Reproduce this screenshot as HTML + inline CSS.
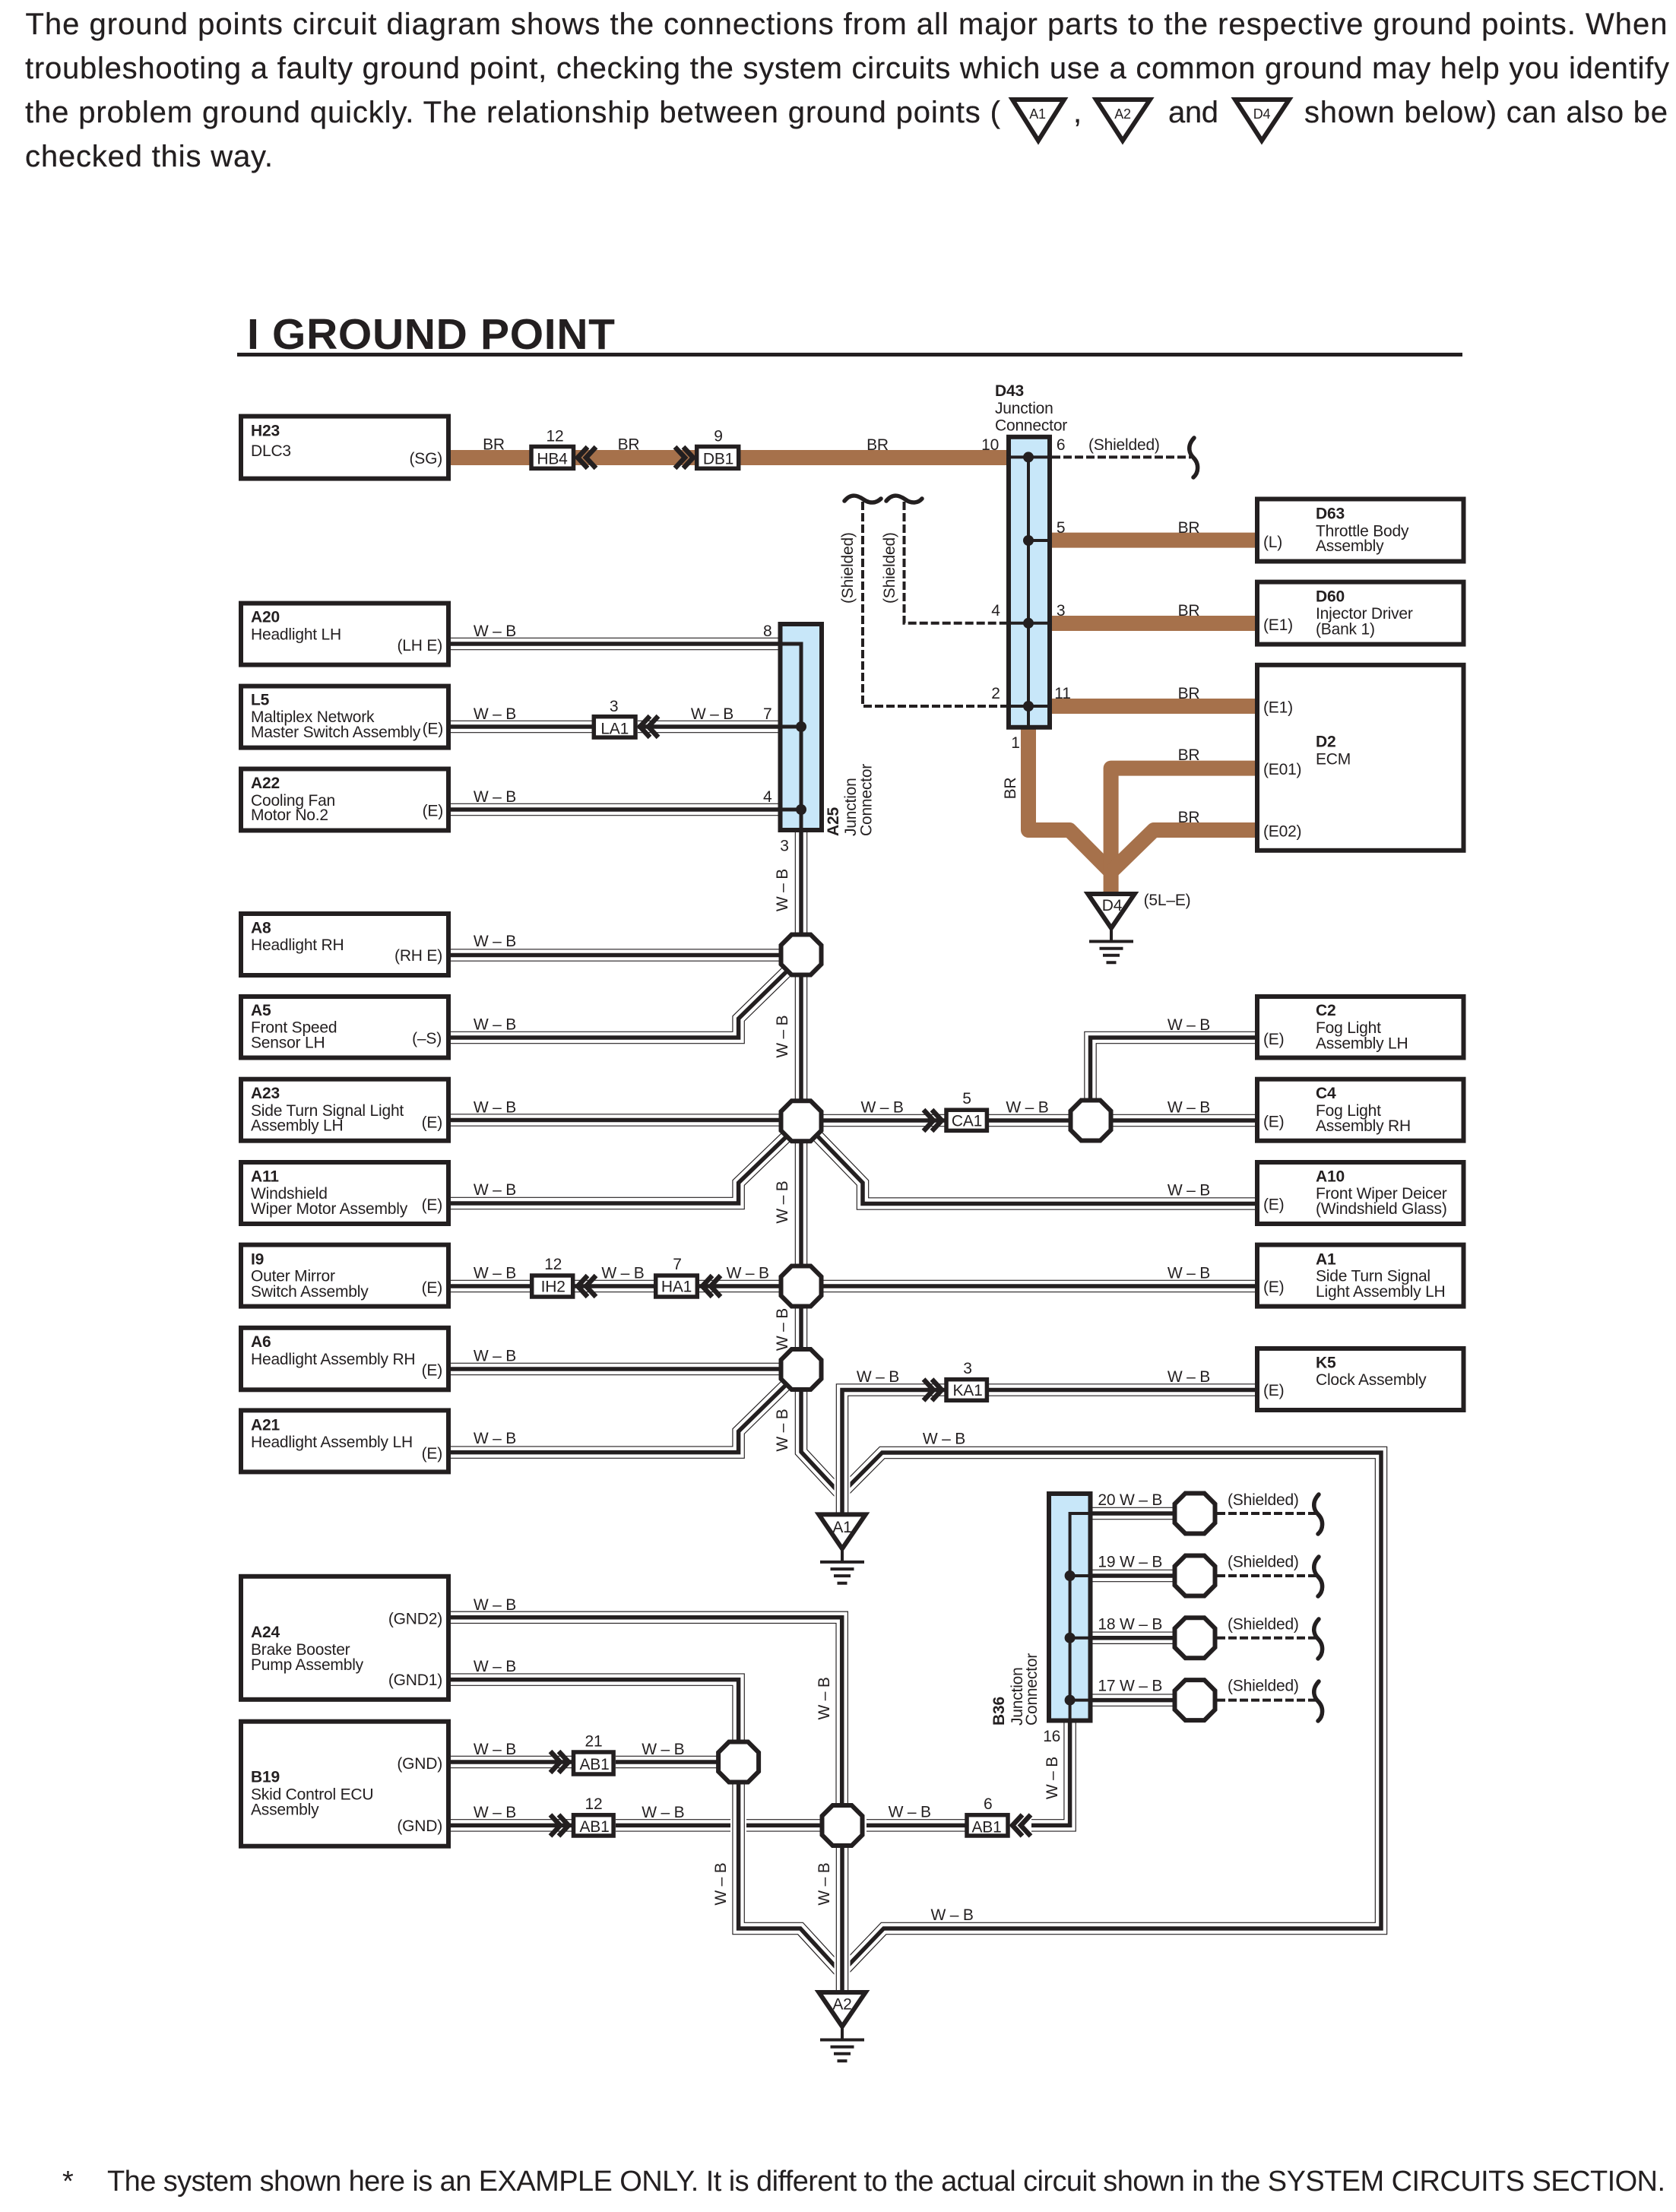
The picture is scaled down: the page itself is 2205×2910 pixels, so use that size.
<!DOCTYPE html>
<html><head><meta charset="utf-8"><title>Ground Point</title>
<style>
html,body{margin:0;padding:0;background:#fff}
svg{display:block}
text{font-family:"Liberation Sans",Arial,sans-serif;font-size:21px;fill:#231f20;letter-spacing:-.2px}
.b{font-weight:bold}
.e{text-anchor:end}
.m{text-anchor:middle}
.p{font-size:40px;letter-spacing:0;stroke:#231f20;stroke-width:.25}
.box{fill:none;stroke:#231f20;stroke-width:6;stroke-linejoin:miter}
.con{fill:#fff;stroke:#231f20;stroke-width:5.5}
.j{fill:#c8e7f9;stroke:#231f20;stroke-width:6}
.ln{fill:none;stroke:#231f20;stroke-width:4}
.dash{fill:none;stroke:#231f20;stroke-width:4;stroke-dasharray:11 4}
.sq{fill:none;stroke:#231f20;stroke-width:5.5;stroke-linecap:round}
</style></head><body>
<svg xmlns="http://www.w3.org/2000/svg" width="2205" height="2910" viewBox="0 0 2205 2910">
<defs>
<path id="wa" d="M593 847H1024M593 956H779M839 956H1024M593 1065H1024M593 1256.5H1030M593 1365H971.6V1340L1036 1277M593 1473.5H1030M593 1583H971.6V1556L1036 1494M593 1692H700M756 1692H863M920 1692H1030M593 1801H1030M593 1910.6H971.6V1883L1036 1820M1075 1494L1135 1556V1583.5H1652M1078 1474H1243M1300 1474H1410M1460 1474H1652M1434.5 1450V1365H1652M1078 1692H1652M1300 1828.5H1652M1108 1964L1160.6 1911H1817V2537H1162.6L1108 2594M1054 1830V1910L1108 1968M1437 1991H1545M1437 2073H1545M1437 2154.7H1545M1437 2236.6H1545M1407.6 2266V2401.4H1357M1328 2401.4H1140M971.6 2345V2537H1053L1108 2597M593 2209.6H971.6V2290M593 2127.8H1107.7V2375M593 2318H752M810 2318H945M593 2401.4H752M810 2401.4H961M982 2401.4H1080"/>
<path id="wb" d="M1054 1095V1830M1243 1828.5H1108V1992M1108 2430V2620"/>
<g id="oc"><polygon points="-12.5,-26.5 12.5,-26.5 26.5,-12.5 26.5,12.5 12.5,26.5 -12.5,26.5 -26.5,12.5 -26.5,-12.5" fill="#fff" stroke="#231f20" stroke-width="6"/></g>
<g id="cl" fill="none" stroke="#231f20" stroke-width="6.5"><path d="M16 -14L3 0L16 14"/><path d="M27 -14L14 0L27 14"/></g>
<g id="cr" fill="none" stroke="#231f20" stroke-width="6.5"><path d="M-16 -14L-3 0L-16 14"/><path d="M-27 -14L-14 0L-27 14"/></g>
<g id="gt"><polygon points="-30.7,3 30.7,3 0,48" fill="#fff" stroke="#231f20" stroke-width="6"/>
<path d="M0 48V65.5" stroke="#231f20" stroke-width="4" fill="none"/>
<path d="M-29 65.5H29M-15.5 74.7H15.5M-11 83.7H11M-6.5 93.3H6.5" stroke="#231f20" stroke-width="4" fill="none"/></g>
<path id="br" class="sq" d="M2 -26C-9 -14,-3 -4,1 0C9 8,8 20,1 26"/>
</defs>

<!-- Intro -->
<text class="p" x="33.5" y="45" textLength="2160">The ground points circuit diagram shows the connections from all major parts to the respective ground points. When</text>
<text class="p" x="33" y="103" textLength="2163">troubleshooting a faulty ground point, checking the system circuits which use a common ground may help you identify</text>
<text class="p" x="33" y="161" textLength="1283">the problem ground quickly. The relationship between ground points (</text>
<polygon points="1332,131 1400,131 1366,185" fill="#fff" stroke="#231f20" stroke-width="6"/>
<text class="m" style="font-size:18px" x="1365" y="156">A1</text>
<text class="p" x="1412" y="161">,</text>
<polygon points="1442,131 1513,131 1477,185" fill="#fff" stroke="#231f20" stroke-width="6"/>
<text class="m" style="font-size:18px" x="1477" y="156">A2</text>
<text class="p" x="1537" y="161" textLength="66">and</text>
<polygon points="1625,131 1696,131 1660,185" fill="#fff" stroke="#231f20" stroke-width="6"/>
<text class="m" style="font-size:18px" x="1660" y="156">D4</text>
<text class="p" x="1716" y="161" textLength="478">shown below) can also be</text>
<text class="p" x="33" y="219" textLength="326">checked this way.</text>

<!-- Title -->
<text class="b" style="font-size:57px;letter-spacing:0" x="325" y="459" textLength="484">I GROUND POINT</text>
<path d="M312 466.5H1924" stroke="#231f20" stroke-width="5" fill="none"/>

<!-- Brown wires -->
<g fill="none" stroke="#a6714b" stroke-width="20" stroke-linejoin="round">
<path d="M590 602H1326"/>
<path d="M1384 710.6H1653M1384 820H1653M1384 929H1653"/>
<path d="M1353 958V1092H1407L1461.6 1147V1175"/>
<path d="M1653 1010.6H1461.6V1147"/>
<path d="M1653 1092H1518L1461.6 1147"/>
</g>

<!-- W-B wires -->
<g fill="none" stroke-linejoin="miter">
<use href="#wa" stroke="#231f20" stroke-width="16.5"/>
<use href="#wa" stroke="#fff" stroke-width="14.2"/>
<use href="#wa" stroke="#231f20" stroke-width="5.5"/>
<use href="#wb" stroke="#fff" stroke-width="21"/>
<use href="#wb" stroke="#231f20" stroke-width="16.5"/>
<use href="#wb" stroke="#fff" stroke-width="14.2"/>
<use href="#wb" stroke="#231f20" stroke-width="5.5"/>
</g>

<!-- Dashed shields -->
<path class="dash" d="M1384 601.4H1567"/>
<path class="dash" d="M1135 660V929H1324"/>
<path class="dash" d="M1189.5 660V819.8H1324"/>
<path class="dash" d="M1601 1991H1732M1601 2073H1732M1601 2154.7H1732M1601 2236.6H1732"/>
<use href="#br" x="1569" y="602"/>
<use href="#br" x="1733" y="1992"/>
<use href="#br" x="1733" y="2074"/>
<use href="#br" x="1733" y="2156"/>
<use href="#br" x="1733" y="2238"/>
<path class="sq" d="M1111 659C1120 648,1129 652,1136 657C1144 663,1153 662,1159 656"/>
<path class="sq" d="M1166 659C1175 648,1184 652,1191 657C1199 663,1208 662,1213 656"/>

<!-- Component boxes left -->
<rect class="box" x="317" y="547.6" width="273" height="82"/>
<rect class="box" x="317" y="793.6" width="273" height="81"/>
<rect class="box" x="317" y="902.6" width="273" height="81"/>
<rect class="box" x="317" y="1011.5" width="273" height="81"/>
<rect class="box" x="317" y="1202" width="273" height="81"/>
<rect class="box" x="317" y="1311" width="273" height="80.5"/>
<rect class="box" x="317" y="1419.7" width="273" height="81"/>
<rect class="box" x="317" y="1529" width="273" height="81"/>
<rect class="box" x="317" y="1637.6" width="273" height="81"/>
<rect class="box" x="317" y="1746.8" width="273" height="81.5"/>
<rect class="box" x="317" y="1855.4" width="273" height="81"/>
<rect class="box" x="317" y="2073.8" width="273" height="162"/>
<rect class="box" x="317" y="2264.7" width="273" height="164"/>
<!-- Component boxes right -->
<rect class="box" x="1654" y="656.5" width="271.5" height="82"/>
<rect class="box" x="1654" y="765.6" width="271.5" height="82"/>
<rect class="box" x="1654" y="874.8" width="271.5" height="244"/>
<rect class="box" x="1654" y="1311" width="271.5" height="80.5"/>
<rect class="box" x="1654" y="1419.7" width="271.5" height="81"/>
<rect class="box" x="1654" y="1529" width="271.5" height="81"/>
<rect class="box" x="1654" y="1637.6" width="271.5" height="81"/>
<rect class="box" x="1654" y="1774" width="271.5" height="81"/>

<!-- Junction connectors -->
<rect class="j" x="1327" y="574.8" width="54" height="382"/>
<rect class="j" x="1026.5" y="821" width="54.5" height="271"/>
<rect class="j" x="1380" y="1965" width="54.5" height="298.5"/>
<path class="ln" d="M1324 601.4H1384M1353 601.4V957M1353 711H1384M1324 819.8H1384M1324 929H1384"/>
<g fill="#231f20"><circle cx="1353" cy="601.4" r="7"/><circle cx="1353" cy="711" r="7"/><circle cx="1353" cy="819.8" r="7"/><circle cx="1353" cy="929" r="7"/></g>
<path d="M1024 847H1054V1093M1024 956H1054M1024 1065H1054" fill="none" stroke="#231f20" stroke-width="5"/>
<g fill="#231f20"><circle cx="1054" cy="956" r="7"/><circle cx="1054" cy="1065" r="7"/></g>
<path class="ln" d="M1437 1991H1407.6V2264M1407.6 2073H1437M1407.6 2154.7H1437M1407.6 2236.6H1437"/>
<g fill="#231f20"><circle cx="1407.6" cy="2073" r="7"/><circle cx="1407.6" cy="2154.7" r="7"/><circle cx="1407.6" cy="2236.6" r="7"/></g>

<!-- Octagons -->
<use href="#oc" x="1054" y="1256"/>
<use href="#oc" x="1054" y="1474.7"/>
<use href="#oc" x="1054" y="1692"/>
<use href="#oc" x="1054" y="1801.5"/>
<use href="#oc" x="1435" y="1474"/>
<use href="#oc" x="971.6" y="2318"/>
<use href="#oc" x="1108" y="2401.5"/>
<use href="#oc" x="1572" y="1991"/>
<use href="#oc" x="1572" y="2073"/>
<use href="#oc" x="1572" y="2154.7"/>
<use href="#oc" x="1572" y="2236.6"/>

<!-- Inline connectors -->
<rect class="con" x="699" y="587.5" width="55.5" height="28.8"/>
<rect class="con" x="916.7" y="587.5" width="55" height="28.8"/>
<rect class="con" x="781.3" y="942.7" width="54.7" height="27.4"/>
<rect class="con" x="699.7" y="1678" width="54" height="28"/>
<rect class="con" x="862.7" y="1678" width="54.6" height="28"/>
<rect class="con" x="1245" y="1460.2" width="53.4" height="27.2"/>
<rect class="con" x="1245" y="1814.7" width="53.4" height="27.6"/>
<rect class="con" x="754.5" y="2305" width="52.6" height="29"/>
<rect class="con" x="754.5" y="2387.7" width="52.6" height="27.3"/>
<rect class="con" x="1272" y="2387.7" width="54" height="27.3"/>
<use href="#cl" x="757" y="602"/>
<use href="#cr" x="915" y="602"/>
<use href="#cl" x="839" y="956"/>
<use href="#cl" x="757" y="1692"/>
<use href="#cl" x="921" y="1692"/>
<use href="#cr" x="1242" y="1474"/>
<use href="#cr" x="1242" y="1828.5"/>
<use href="#cr" x="751" y="2318"/>
<use href="#cr" x="751" y="2401.4"/>
<use href="#cl" x="1329" y="2401.4"/>

<!-- Ground triangles -->
<use href="#gt" x="1462" y="1173"/>
<use href="#gt" x="1108" y="1989.4"/>
<use href="#gt" x="1108" y="2618"/>
<text class="m" x="1463" y="1198">D4</text>
<text class="m" x="1108" y="2016">A1</text>
<text class="m" x="1108" y="2643.6">A2</text>
<text x="1504.6" y="1191">(5L–E)</text>

<!-- Left box text -->
<text class="b" x="330" y="573.7">H23</text><text x="330" y="600">DLC3</text><text class="e" x="582" y="610">(SG)</text>
<text class="b" x="330" y="818.7">A20</text><text x="330" y="841.5">Headlight LH</text><text class="e" x="582" y="856">(LH E)</text>
<text class="b" x="330" y="927.7">L5</text><text x="330" y="950">Maltiplex Network</text><text x="330" y="970">Master Switch Assembly</text><text class="e" x="583" y="965.6">(E)</text>
<text class="b" x="330" y="1037">A22</text><text x="330" y="1060">Cooling Fan</text><text x="330" y="1079">Motor No.2</text><text class="e" x="583" y="1073.6">(E)</text>
<text class="b" x="330" y="1227.4">A8</text><text x="330" y="1250">Headlight RH</text><text class="e" x="582" y="1264">(RH E)</text>
<text class="b" x="330" y="1336">A5</text><text x="330" y="1358.6">Front Speed</text><text x="330" y="1378.5">Sensor LH</text><text class="e" x="581" y="1373">(–S)</text>
<text class="b" x="330" y="1445">A23</text><text x="330" y="1467.8">Side Turn Signal Light</text><text x="330" y="1487.6">Assembly LH</text><text class="e" x="582" y="1483.6">(E)</text>
<text class="b" x="330" y="1554.5">A11</text><text x="330" y="1577">Windshield</text><text x="330" y="1597">Wiper Motor Assembly</text><text class="e" x="582" y="1592">(E)</text>
<text class="b" x="330" y="1663.7">I9</text><text x="330" y="1685.6">Outer Mirror</text><text x="330" y="1706">Switch Assembly</text><text class="e" x="582" y="1701">(E)</text>
<text class="b" x="330" y="1772">A6</text><text x="330" y="1795">Headlight Assembly RH</text><text class="e" x="582" y="1809.6">(E)</text>
<text class="b" x="330" y="1881.5">A21</text><text x="330" y="1904">Headlight Assembly LH</text><text class="e" x="582" y="1918.8">(E)</text>
<text class="b" x="330" y="2154">A24</text><text x="330" y="2177">Brake Booster</text><text x="330" y="2197">Pump Assembly</text><text class="e" x="582" y="2136.4">(GND2)</text><text class="e" x="582" y="2217">(GND1)</text>
<text class="b" x="330" y="2344.5">B19</text><text x="330" y="2367.5">Skid Control ECU</text><text x="330" y="2387.6">Assembly</text><text class="e" x="582" y="2326.8">(GND)</text><text class="e" x="582" y="2409">(GND)</text>

<!-- Right box text -->
<text class="b" x="1731" y="682.6">D63</text><text x="1731" y="705.5">Throttle Body</text><text x="1731" y="725">Assembly</text><text x="1662" y="719.8">(L)</text>
<text class="b" x="1731" y="791.7">D60</text><text x="1731" y="814">Injector Driver</text><text x="1731" y="834.6">(Bank 1)</text><text x="1662" y="829">(E1)</text>
<text class="b" x="1731" y="982.5">D2</text><text x="1731" y="1005.5">ECM</text><text x="1662" y="937.6">(E1)</text><text x="1662" y="1019">(E01)</text><text x="1662" y="1100.4">(E02)</text>
<text class="b" x="1731" y="1336">C2</text><text x="1731" y="1359">Fog Light</text><text x="1731" y="1379.5">Assembly LH</text><text x="1662" y="1374">(E)</text>
<text class="b" x="1731" y="1445">C4</text><text x="1731" y="1467.8">Fog Light</text><text x="1731" y="1488">Assembly RH</text><text x="1662" y="1482.5">(E)</text>
<text class="b" x="1731" y="1554.5">A10</text><text x="1731" y="1577">Front Wiper Deicer</text><text x="1731" y="1597">(Windshield Glass)</text><text x="1662" y="1591.7">(E)</text>
<text class="b" x="1731" y="1663.7">A1</text><text x="1731" y="1685.6">Side Turn Signal</text><text x="1731" y="1706">Light Assembly LH</text><text x="1662" y="1700">(E)</text>
<text class="b" x="1731" y="1799.4">K5</text><text x="1731" y="1822">Clock Assembly</text><text x="1662" y="1836">(E)</text>

<!-- Connector text -->
<text class="m" x="726.5" y="610.5">HB4</text><text class="m" x="730" y="580.4">12</text>
<text class="m" x="945" y="610.5">DB1</text><text class="m" x="945" y="580.4">9</text>
<text class="m" x="808.7" y="965.6">LA1</text><text class="m" x="807.6" y="936">3</text>
<text class="m" x="727.7" y="1699.4">IH2</text><text class="m" x="727.7" y="1669.8">12</text>
<text class="m" x="890" y="1699.4">HA1</text><text class="m" x="891" y="1669.8">7</text>
<text class="m" x="1272" y="1481.5">CA1</text><text class="m" x="1272" y="1452">5</text>
<text class="m" x="1273" y="1836">KA1</text><text class="m" x="1273" y="1807">3</text>
<text class="m" x="782" y="2327.8">AB1</text><text class="m" x="781" y="2297.6">21</text>
<text class="m" x="782" y="2410">AB1</text><text class="m" x="781" y="2380">12</text>
<text class="m" x="1298" y="2410.6">AB1</text><text class="m" x="1299.7" y="2380">6</text>

<!-- BR labels -->
<text class="m" x="649.5" y="591.5">BR</text><text class="m" x="827" y="591.5">BR</text><text class="m" x="1154.5" y="592">BR</text>
<text class="m" x="1564" y="701">BR</text><text class="m" x="1564" y="810">BR</text><text class="m" x="1564" y="918.8">BR</text><text class="m" x="1564" y="1000">BR</text><text class="m" x="1564" y="1082">BR</text>
<text class="m" transform="translate(1336,1037) rotate(-90)">BR</text>

<!-- Pin numbers -->
<text class="m" x="1302.6" y="592">10</text><text class="m" x="1395.6" y="592">6</text>
<text class="m" x="1395.6" y="701">5</text><text class="m" x="1395.6" y="810">3</text><text class="m" x="1310" y="810">4</text>
<text class="m" x="1398" y="918.8">11</text><text class="m" x="1310" y="918.8">2</text><text class="m" x="1336" y="984">1</text>
<text class="m" x="1009.7" y="837">8</text><text class="m" x="1009.7" y="946">7</text><text class="m" x="1009.7" y="1055">4</text>
<text class="m" x="1032" y="1119.6">3</text><text class="m" x="1383.7" y="2291">16</text>

<!-- Junction labels -->
<text class="b" x="1309" y="520.8">D43</text><text x="1309" y="543.8">Junction</text><text x="1309" y="566.7">Connector</text>
<text class="b" transform="translate(1102.8,1100) rotate(-90)">A25</text>
<text transform="translate(1125.8,1100) rotate(-90)">Junction</text>
<text transform="translate(1146.4,1100) rotate(-90)">Connector</text>
<text class="b" transform="translate(1320.9,2270) rotate(-90)">B36</text>
<text transform="translate(1345,2270) rotate(-90)">Junction</text>
<text transform="translate(1364,2270) rotate(-90)">Connector</text>

<!-- Shielded -->
<text x="1432" y="592">(Shielded)</text>
<text transform="translate(1122,794) rotate(-90)">(Shielded)</text>
<text transform="translate(1177,794) rotate(-90)">(Shielded)</text>
<text x="1615" y="1980">(Shielded)</text><text x="1615" y="2061.5">(Shielded)</text><text x="1615" y="2143.4">(Shielded)</text><text x="1615" y="2224.7">(Shielded)</text>
<text x="1444.4" y="1980">20 W – B</text><text x="1444.4" y="2061.5">19 W – B</text><text x="1444.4" y="2143.4">18 W – B</text><text x="1444.4" y="2224.7">17 W – B</text>

<!-- W-B labels horizontal -->
<g class="m" style="text-anchor:middle">
<text x="651" y="837">W – B</text><text x="651" y="946">W – B</text><text x="937" y="946">W – B</text><text x="651" y="1055">W – B</text>
<text x="651" y="1245">W – B</text><text x="651" y="1354.5">W – B</text><text x="651" y="1463.7">W – B</text><text x="651" y="1572">W – B</text>
<text x="651" y="1681.5">W – B</text><text x="819.5" y="1681.5">W – B</text><text x="983.7" y="1681.5">W – B</text>
<text x="651" y="1790.7">W – B</text><text x="651" y="1899">W – B</text>
<text x="1160.6" y="1463.7">W – B</text><text x="1351.5" y="1463.7">W – B</text>
<text x="1564" y="1355">W – B</text><text x="1564" y="1463.7">W – B</text><text x="1564" y="1572.4">W – B</text><text x="1564" y="1681.5">W – B</text><text x="1564" y="1817.8">W – B</text>
<text x="1155" y="1817.8">W – B</text><text x="1242" y="1899.4">W – B</text>
<text x="651" y="2118">W – B</text><text x="651" y="2199">W – B</text><text x="651" y="2308">W – B</text><text x="651" y="2391">W – B</text>
<text x="872.3" y="2308">W – B</text><text x="872.3" y="2391">W – B</text>
<text x="1196.7" y="2390.5">W – B</text><text x="1252.6" y="2526">W – B</text>
<!-- rotated -->
<text transform="translate(1036,1171) rotate(-90)">W – B</text>
<text transform="translate(1036,1363.7) rotate(-90)">W – B</text>
<text transform="translate(1036,1581.5) rotate(-90)">W – B</text>
<text transform="translate(1036,1749) rotate(-90)">W – B</text>
<text transform="translate(1036,1881.5) rotate(-90)">W – B</text>
<text transform="translate(1091,2234.4) rotate(-90)">W – B</text>
<text transform="translate(1091,2478.5) rotate(-90)">W – B</text>
<text transform="translate(955,2478.5) rotate(-90)">W – B</text>
<text transform="translate(1391,2339) rotate(-90)">W – B</text>
</g>

<!-- Footer -->
<text style="font-size:38px;letter-spacing:0" x="82" y="2882">*</text>
<text style="font-size:38px;letter-spacing:0" x="141" y="2882" textLength="2050">The system shown here is an EXAMPLE ONLY. It is different to the actual circuit shown in the SYSTEM CIRCUITS SECTION.</text>
</svg>
</body></html>
